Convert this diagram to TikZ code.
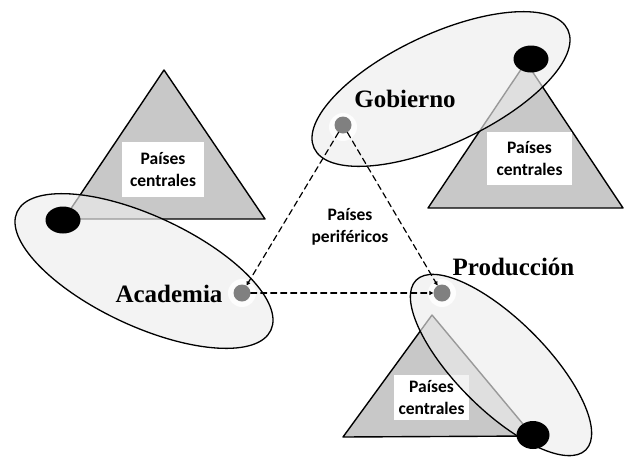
\documentclass[tikz,border=0pt]{standalone}
\usepackage{fontspec}
\setmainfont{Liberation Serif}
\newfontfamily\calibri{Carlito}
\usetikzlibrary{arrows.meta}

\begin{document}
\begin{tikzpicture}[x=1pt,y=-1pt,line join=round,line cap=round]
	\definecolor{grisTriangulo}{RGB}{200,200,200}
	\definecolor{grisElipse}{RGB}{236,236,236}
	\definecolor{grisPunto}{RGB}{128,128,128}
	\tikzset{
		triangulo/.style={fill=grisTriangulo,draw=black,line width=1.4pt},
		caja/.style={fill=white,inner sep=0pt,align=center,font=\calibri\bfseries\fontsize{17.5}{21.5}\selectfont},
		elipse/.style={fill=grisElipse,fill opacity=.65,draw=black,line width=1.3pt},
		brillo/.style={circle,fill=white,fill opacity=.85,minimum size=28pt,inner sep=0pt},
		punto/.style={circle,fill=grisPunto,minimum size=17pt,inner sep=0pt},
		enlace/.style={line width=1.2pt,dash pattern=on 6pt off 4pt,-{Triangle[length=4pt,width=4pt]}},
		actor/.style={font=\bfseries\fontsize{25}{30}\selectfont,anchor=base},
	}
	\useasboundingbox (0,0) rectangle (624,456);
	
	%%%% triángulos de países centrales
	\draw[triangulo] (164,70)--(64,219)--(265,219)--cycle;
	\draw[triangulo] (526,62)--(428,208)--(623,208)--cycle;
	\draw[triangulo] (432,315)--(343,437)--(533,436)--cycle;
	\node[caja,minimum width=82pt,minimum height=55pt] (cajaA) at (163,169.5) {Países\\centrales};
	\node[caja,minimum width=85pt,minimum height=53pt] (cajaG) at (529.5,158.5) {Países\\centrales};
	\node[caja,minimum width=75pt,minimum height=45pt] (cajaP) at (431.5,397.5) {Países\\centrales};
	
	%%%% elipses
	\draw[elipse,rotate around={-25:(144,271)}] (144,271) ellipse [x radius=140,y radius=55];
	\draw[elipse,rotate around={25:(441,89)}] (441,89) ellipse [x radius=140,y radius=55];
	\draw[elipse,rotate around={-45:(501,365)}] (501,365) ellipse [x radius=120,y radius=45];
	
	%%%% puntos negros
	\fill (63,220) ellipse [x radius=17.5,y radius=13.5];
	\fill (531,59) ellipse [x radius=17.5,y radius=13.5];
	\fill (533,435) ellipse [x radius=16.5,y radius=14];
	
	%%%% triángulo periférico
	\node[brillo] at (343,127) {};
	\node[brillo] at (242,293) {};
	\node[brillo] at (442,293) {};
	\node[punto] (gob) at (343,125) {};
	\node[punto] (acad) at (242,293) {};
	\node[punto] (prod) at (442,293) {};
	\draw[enlace] (gob) -- (acad);
	\draw[enlace] (gob) -- (prod);
	\draw[enlace] (acad) -- (prod);
	\node[caja,fill=none] (perif) at (350,227) {Países\\periféricos};
	
	%%%% nombres
	\node[actor] (nGob) at (405,107) {Gobierno};
	\node[actor] (nAcad) at (169,302) {Academia};
	\node[actor] (nProd) at (513.5,275) {Producción};
\end{tikzpicture}
\end{document}
